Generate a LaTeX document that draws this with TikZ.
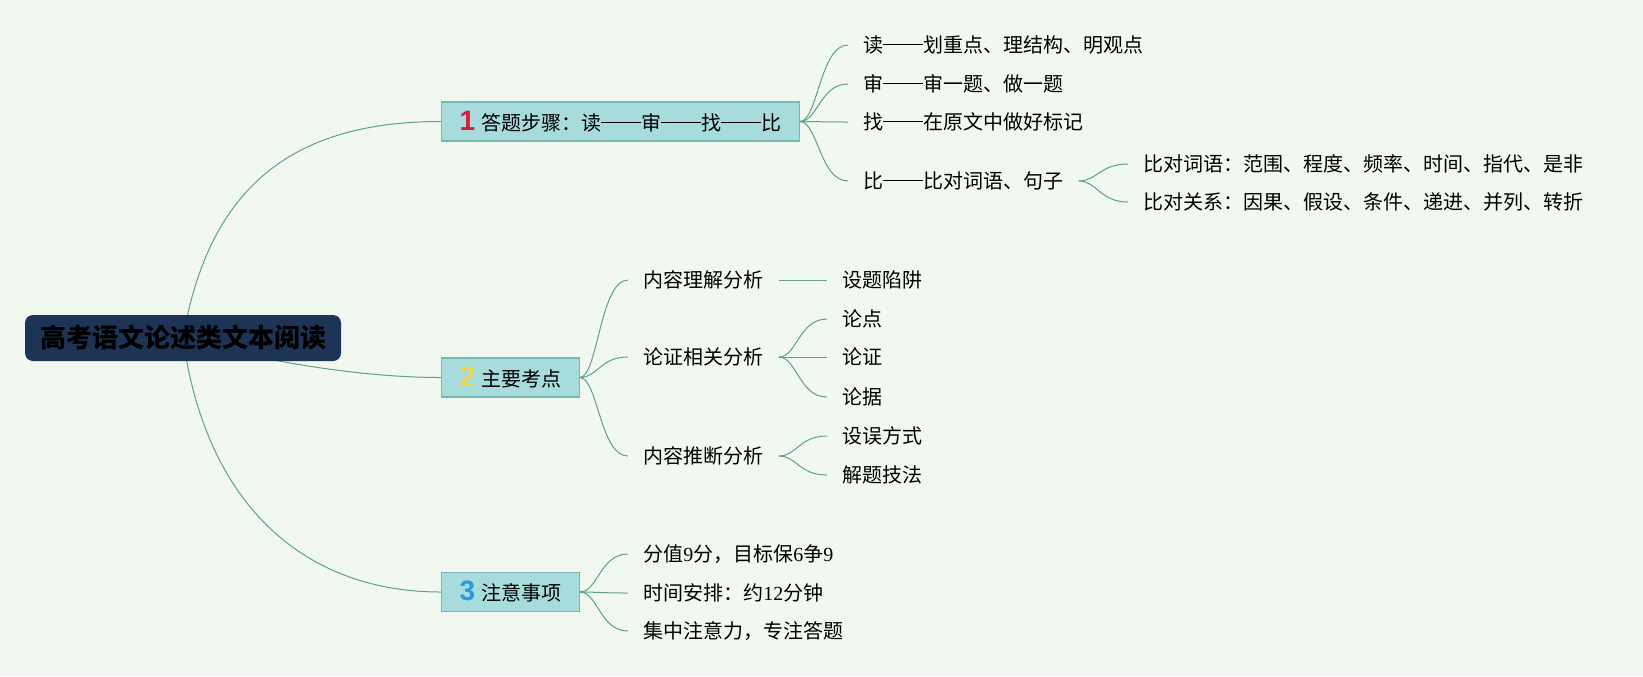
\documentclass[tikz,border=0pt]{standalone}
\usepackage{fontspec}
\setmainfont{Noto Sans CJK SC}
\newfontfamily\numfont{Liberation Sans}
\newfontfamily\latinfont{Liberation Serif}
\usetikzlibrary{backgrounds}
\definecolor{bgcol}{RGB}{240,248,240}
\definecolor{rootcol}{RGB}{30,52,86}
\definecolor{boxcol}{RGB}{168,219,220}
\definecolor{boxline}{RGB}{120,185,180}
\definecolor{linkcol}{RGB}{96,160,140}
\definecolor{onecol}{RGB}{215,30,60}
\definecolor{twocol}{RGB}{240,215,80}
\definecolor{threecol}{RGB}{40,155,220}
\newcommand\topicnum[2]{{\numfont\bfseries\fontsize{14pt}{14pt}\selectfont\color{#1}#2}\hspace{3pt}}
\newcommand\longdash{\rule[0.36em]{2em}{0.07em}}
\begin{document}
\begin{tikzpicture}
    [
        x = 0.5pt, y = -0.5pt,
        every node/.style = {font=\fontsize{10pt}{12pt}\selectfont, inner sep=0pt},
        root/.style = {shape=rectangle, rounded corners=4pt, fill=rootcol,
            font=\fontsize{13pt}{15pt}\selectfont\bfseries,
            minimum width=158pt, minimum height=23pt},
        topic/.style = {shape=rectangle, draw=boxline, fill=boxcol, anchor=west,
            line width=0.6pt, inner xsep=9pt, minimum height=19.5pt},
        leaf/.style = {anchor=west, inner xsep=7.5pt, inner ysep=2pt},
        link/.style = {draw=linkcol, line width=0.5pt}
    ]
    \useasboundingbox (0,0) rectangle (1643,676);
    \node[root] (root) at (183,338) {高考语文论述类文本阅读};
    \node[topic] (steps) at (441,121.5) {\topicnum{onecol}{1}答题步骤：读\longdash 审\longdash 找\longdash 比};
    \node[topic] (points) at (441,377.5) {\topicnum{twocol}{2}主要考点};
    \node[topic] (notes) at (441,592) {\topicnum{threecol}{3}注意事项};

    \node[leaf] (read) at (848,45) {读\longdash 划重点、理结构、明观点};
    \node[leaf] (check) at (848,84) {审\longdash 审一题、做一题};
    \node[leaf] (find) at (848,122) {找\longdash 在原文中做好标记};
    \node[leaf] (compare) at (848,181) {比\longdash 比对词语、句子};
    \node[leaf] (words) at (1128,164) {比对词语：范围、程度、频率、时间、指代、是非};
    \node[leaf] (relation) at (1128,202) {比对关系：因果、假设、条件、递进、并列、转折};

    \node[leaf] (grasp) at (628,280) {内容理解分析};
    \node[leaf] (argue) at (628,357) {论证相关分析};
    \node[leaf] (infer) at (628,456) {内容推断分析};
    \node[leaf] (trap) at (827,280) {设题陷阱};
    \node[leaf] (thesis) at (827,319) {论点};
    \node[leaf] (proof) at (827,357) {论证};
    \node[leaf] (basis) at (827,397) {论据};
    \node[leaf] (ways) at (827,436) {设误方式};
    \node[leaf] (skill) at (827,475) {解题技法};

    \node[leaf] (score) at (628,554) {分值{\latinfont 9}分，目标保{\latinfont 6}争{\latinfont 9}};
    \node[leaf] (time) at (628,593) {时间安排：约{\latinfont 12}分钟};
    \node[leaf] (focus) at (628,631) {集中注意力，专注答题};

    \begin{scope}[on background layer]
        \fill[bgcol] (0,0) rectangle (1643,676);
        \draw[link] (root.center) .. controls (210,180) and (300,121.5) .. (steps.west);
        \draw[link] (root.center) .. controls (260,361) and (360,377.5) .. (points.west);
        \draw[link] (root.center) .. controls (205,500) and (300,592) .. (notes.west);
    \end{scope}

    \draw[link] (steps.east) .. controls +(18,0) and +(-28,0) .. (read.west);
    \draw[link] (steps.east) .. controls +(18,0) and +(-28,0) .. (check.west);
    \draw[link] (steps.east) .. controls +(18,0) and +(-28,0) .. (find.west);
    \draw[link] (steps.east) .. controls +(18,0) and +(-28,0) .. (compare.west);
    \draw[link] (compare.east) .. controls +(18,0) and +(-28,0) .. (words.west);
    \draw[link] (compare.east) .. controls +(18,0) and +(-28,0) .. (relation.west);

    \draw[link] (points.east) .. controls +(18,0) and +(-28,0) .. (grasp.west);
    \draw[link] (points.east) .. controls +(18,0) and +(-28,0) .. (argue.west);
    \draw[link] (points.east) .. controls +(18,0) and +(-28,0) .. (infer.west);
    \draw[link] (grasp.east) -- (trap.west);
    \draw[link] (argue.east) .. controls +(18,0) and +(-28,0) .. (thesis.west);
    \draw[link] (argue.east) .. controls +(18,0) and +(-28,0) .. (proof.west);
    \draw[link] (argue.east) .. controls +(18,0) and +(-28,0) .. (basis.west);
    \draw[link] (infer.east) .. controls +(18,0) and +(-28,0) .. (ways.west);
    \draw[link] (infer.east) .. controls +(18,0) and +(-28,0) .. (skill.west);

    \draw[link] (notes.east) .. controls +(18,0) and +(-28,0) .. (score.west);
    \draw[link] (notes.east) .. controls +(18,0) and +(-28,0) .. (time.west);
    \draw[link] (notes.east) .. controls +(18,0) and +(-28,0) .. (focus.west);
\end{tikzpicture}
\end{document}
